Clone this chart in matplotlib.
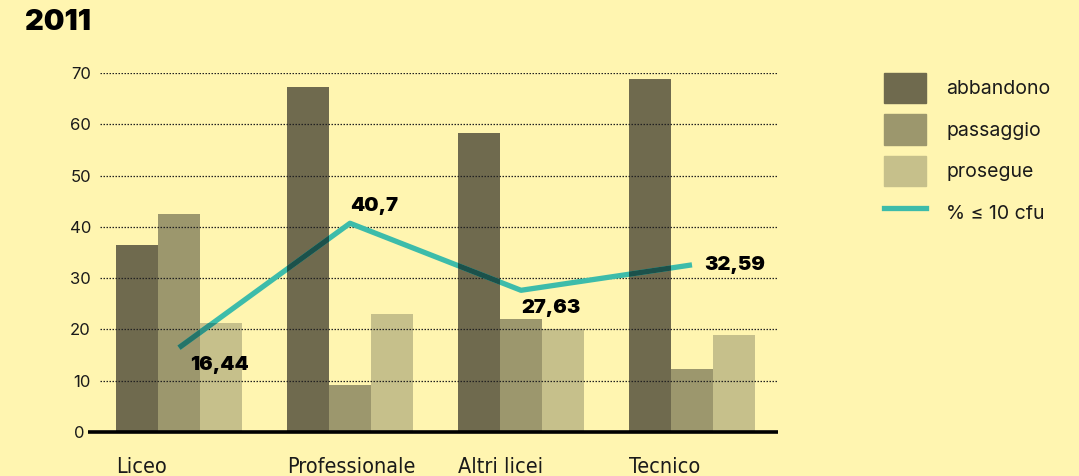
import matplotlib
matplotlib.use('Agg')
import matplotlib.pyplot as plt
import matplotlib.colors as mcolors
import matplotlib.transforms as mtransforms
import numpy as np
from matplotlib.patches import Patch
from matplotlib.lines import Line2D

categories = ['Liceo', 'Professionale', 'Altri licei', 'Tecnico']
abbandono = [36.5, 67.2, 58.3, 68.8]
passaggio = [42.5, 9.2, 22.0, 12.3]
prosegue = [21.2, 23.0, 20.1, 18.9]
pct_10cfu = [16.44, 40.7, 27.63, 32.59]
pct_labels = ['16,44', '40,7', '27,63', '32,59']
yticks = [0, 10, 20, 30, 40, 50, 60, 70]

bg = '#fff5b0'
c_abb = '#6f6a4e'
c_pas = '#9c976d'
c_pro = '#c6c08b'
c_line = '#3dbcaa'


def multiply(c1, c2):
    # simulate a "multiply" blend of the line over a bar
    a = np.array(mcolors.to_rgb(c1))
    b = np.array(mcolors.to_rgb(c2))
    return tuple(a * b / np.array(mcolors.to_rgb(bg)).clip(0.5, 1))


plt.rcParams['font.family'] = ['Inter', 'DejaVu Sans']

fig = plt.figure(figsize=(10.79, 4.76), dpi=100, facecolor=bg)
ax = fig.add_axes([100/1079, 1-432/476, 678/1079, (432-73)/476])
ax.set_facecolor(bg)

x = np.arange(len(categories))
w = 42/171
bars = []
for off, vals, col in [(-w, abbandono, c_abb), (0, passaggio, c_pas), (w, prosegue, c_pro)]:
    bc = ax.bar(x + off, vals, w, color=col, zorder=2)
    bars += [(p, col) for p in bc]

ax.set_ylim(0, 70)
ax.set_xlim((100-179)/171, (778-179)/171)
ax.set_yticks(yticks)
for t in yticks[1:]:
    ax.axhline(t, color='#222222', lw=0.9, ls=(0, (1.2, 1.2)), zorder=3)

ax.plot(x, pct_10cfu, color=c_line, lw=3.8, zorder=4, solid_capstyle='butt')
# darker overlay where the line crosses the bars
for p, col in bars:
    ln, = ax.plot(x, pct_10cfu, color=multiply(c_line, col), lw=3.8, zorder=4.1,
                  solid_capstyle='butt')
    ln.set_clip_path(p)

offsets = [(8, -6, 'left', 'top'), (0, 6, 'left', 'bottom'),
           (0, -6, 'left', 'top'), (9, 0, 'left', 'center')]
for xi, v, lab, (dx, dy, ha, va) in zip(x, pct_10cfu, pct_labels, offsets):
    ax.annotate(lab, (xi, v), xytext=(dx, dy), textcoords='offset points',
                ha=ha, va=va, fontsize=14.5, fontweight='black', color='black', zorder=5)

for s in ['top', 'right', 'left', 'bottom']:
    ax.spines[s].set_visible(False)
ax.plot([-0.018, 1], [0, 0], color='black', lw=2.6, transform=ax.get_yaxis_transform(),
        clip_on=False, zorder=5, solid_capstyle='butt')

ax.tick_params(axis='y', length=0, pad=6.5, labelsize=12, labelcolor='#1a1a1a')
ax.set_xticks([])
# the "0" sits left of the baseline
zero = ax.yaxis.get_major_ticks()[0].label1
zero.set_transform(zero.get_transform() +
                   mtransforms.ScaledTranslation(-6/100, 0, fig.dpi_scale_trans))

for xi, cat in zip(x, categories):
    ax.text(xi - 1.5*w, -6.8, cat, ha='left', va='center', fontsize=15.5,
            family=['Liberation Sans Narrow', 'DejaVu Sans'], fontstretch='condensed',
            color='#1a1a1a')

fig.text(25/1079, 1-22/476, '2011', ha='left', va='center', fontsize=21,
         fontweight='black', color='black')

handles = [Patch(color=c_abb), Patch(color=c_pas), Patch(color=c_pro),
           Line2D([0], [0], color=c_line, lw=3.8)]
labels = ['abbandono', 'passaggio', 'prosegue', '% ≤ 10 cfu']
leg = fig.legend(handles, labels, loc='upper left', bbox_to_anchor=(866/1079, 1-55/476),
                 frameon=False, fontsize=14, handlelength=2.16, handleheight=2.04,
                 handletextpad=1.08, labelspacing=0.57, labelcolor='#1a1a1a')

fig.savefig('out.png', dpi=100, facecolor=bg)
